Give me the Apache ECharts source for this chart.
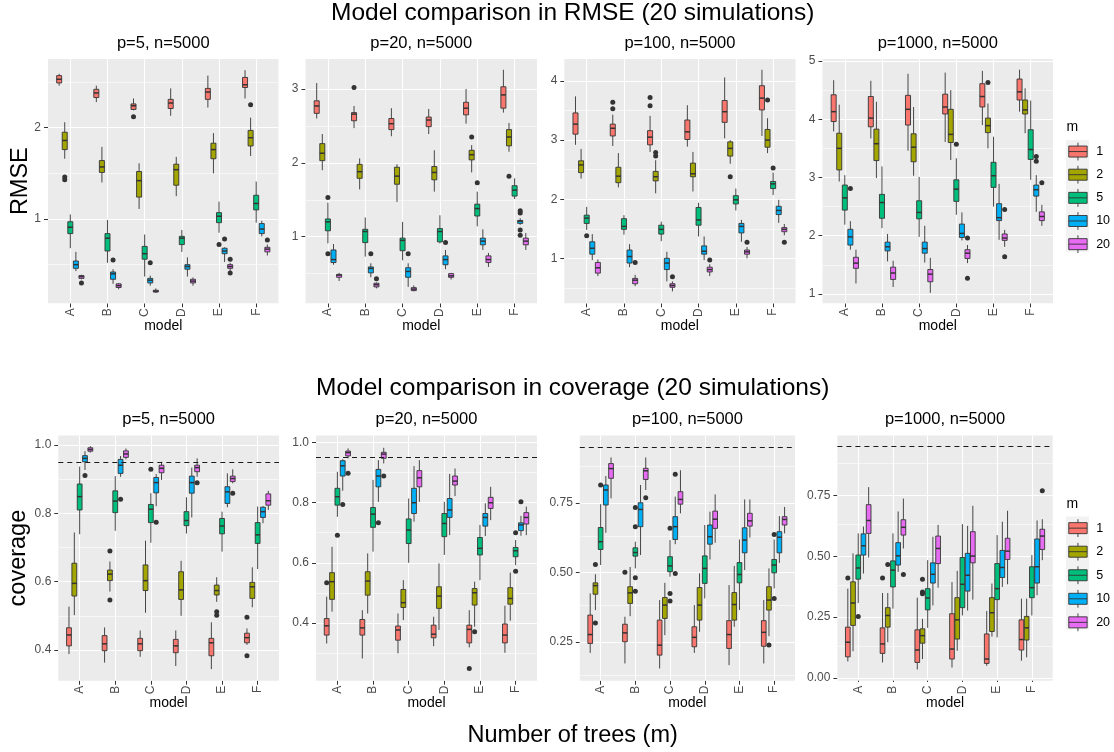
<!DOCTYPE html>
<html><head><meta charset="utf-8">
<script src="https://cdn.jsdelivr.net/npm/echarts@6/dist/echarts.min.js"></script>
<style>html,body{margin:0;padding:0;background:#fff}#c{width:1114px;height:752px}</style>
</head><body><div id="c"></div>
<script>
const models = ['A','B','C','D','E','F'];
const mLevels = ['1','2','5','10','20'];
const mColors = ['#F8766D','#A3A500','#00BF7D','#00B0F6','#E76BF3'];
const coverageTarget = 0.95;

// Box statistics [lower whisker, Q1, median, Q3, upper whisker]; rows = m (1,2,5,10,20), columns = model A..F
const rmseP5 = [
 [[2.46,2.49,2.53,2.57,2.59],[2.28,2.33,2.38,2.42,2.46],[2.19,2.20,2.24,2.26,2.32],[2.13,2.21,2.27,2.31,2.43],[2.22,2.31,2.39,2.43,2.57],[2.32,2.44,2.47,2.55,2.63]],
 [[1.66,1.76,1.86,1.95,2.06],[1.40,1.51,1.57,1.64,1.79],[1.11,1.24,1.42,1.52,1.61],[1.25,1.37,1.54,1.60,1.68],[1.50,1.66,1.76,1.83,1.94],[1.69,1.80,1.89,1.97,2.11]],
 [[0.68,0.84,0.91,0.97,1.05],[0.52,0.65,0.79,0.84,0.99],[0.37,0.56,0.62,0.70,0.83],[0.64,0.72,0.79,0.81,0.88],[0.85,0.96,1.03,1.07,1.19],[0.96,1.10,1.17,1.26,1.41]],
 [[0.43,0.46,0.50,0.54,0.64],[0.29,0.34,0.40,0.42,0.45],[0.27,0.30,0.33,0.35,0.38],[0.37,0.45,0.48,0.50,0.58],[0.53,0.62,0.65,0.68,0.69],[0.81,0.84,0.89,0.95,0.98]],
 [[0.34,0.35,0.37,0.38,0.39],[0.23,0.25,0.27,0.29,0.30],[0.19,0.20,0.21,0.22,0.24],[0.27,0.30,0.32,0.34,0.36],[0.43,0.46,0.48,0.50,0.52],[0.60,0.64,0.67,0.69,0.72]]
];
const rmseP20 = [
 [[2.60,2.67,2.77,2.84,3.08],[2.47,2.57,2.66,2.68,2.77],[2.36,2.45,2.53,2.60,2.74],[2.39,2.49,2.58,2.62,2.73],[2.53,2.65,2.74,2.82,3.00],[2.68,2.74,2.92,3.03,3.26]],
 [[1.90,2.03,2.13,2.26,2.39],[1.64,1.79,1.88,1.98,2.06],[1.47,1.71,1.82,1.94,1.98],[1.61,1.77,1.87,1.95,2.17],[1.87,2.04,2.11,2.17,2.24],[2.15,2.23,2.35,2.45,2.54]],
 [[0.91,1.08,1.20,1.24,1.46],[0.73,0.92,1.07,1.10,1.26],[0.68,0.81,0.95,0.98,1.20],[0.91,0.93,1.07,1.11,1.29],[1.14,1.28,1.38,1.44,1.61],[1.51,1.55,1.63,1.69,1.79]],
 [[0.62,0.65,0.69,0.82,0.90],[0.45,0.51,0.57,0.59,0.64],[0.32,0.45,0.53,0.58,0.64],[0.56,0.62,0.69,0.74,0.82],[0.82,0.89,0.94,0.98,1.10],[1.16,1.18,1.21,1.22,1.25]],
 [[0.40,0.45,0.48,0.49,0.51],[0.30,0.32,0.35,0.37,0.38],[0.26,0.27,0.29,0.31,0.34],[0.42,0.45,0.47,0.50,0.51],[0.59,0.65,0.69,0.74,0.78],[0.82,0.89,0.94,0.98,1.05]]
];
const rmseP100 = [
 [[2.92,3.10,3.27,3.46,3.74],[2.90,3.07,3.20,3.27,3.43],[2.80,2.92,3.05,3.16,3.41],[2.89,3.01,3.14,3.34,3.59],[3.03,3.30,3.48,3.67,4.06],[3.07,3.51,3.71,3.92,4.19]],
 [[2.35,2.45,2.58,2.65,2.85],[2.20,2.28,2.39,2.54,2.78],[2.10,2.31,2.38,2.47,2.66],[2.13,2.38,2.43,2.61,2.80],[2.60,2.73,2.86,2.97,3.00],[2.78,2.88,3.00,3.18,3.37]],
 [[1.48,1.59,1.68,1.73,1.87],[1.40,1.49,1.54,1.67,1.73],[1.29,1.41,1.49,1.56,1.62],[1.37,1.56,1.65,1.86,1.94],[1.81,1.92,1.99,2.06,2.18],[2.07,2.18,2.26,2.30,2.45]],
 [[0.97,1.07,1.17,1.28,1.41],[0.85,0.92,1.03,1.14,1.24],[0.61,0.81,0.92,1.00,1.11],[0.97,1.07,1.12,1.21,1.37],[1.28,1.43,1.54,1.59,1.65],[1.60,1.74,1.81,1.88,1.99]],
 [[0.70,0.75,0.84,0.93,0.98],[0.53,0.57,0.63,0.66,0.72],[0.44,0.51,0.54,0.57,0.61],[0.70,0.77,0.81,0.85,0.90],[1.00,1.07,1.11,1.14,1.19],[1.39,1.45,1.49,1.52,1.58]]
];
const rmseP1000 = [
 [[3.79,3.96,4.13,4.42,4.67],[3.67,3.87,4.02,4.39,4.66],[3.46,3.90,4.17,4.41,4.78],[3.61,4.09,4.21,4.43,4.80],[3.90,4.21,4.39,4.61,4.83],[4.13,4.33,4.47,4.69,4.85]],
 [[2.93,3.13,3.50,3.76,4.25],[2.99,3.29,3.58,3.83,4.30],[3.03,3.27,3.52,3.75,4.21],[3.30,3.60,3.74,4.17,4.50],[3.50,3.77,3.89,4.02,4.27],[3.76,4.09,4.16,4.33,4.53]],
 [[2.19,2.44,2.65,2.87,3.04],[2.13,2.30,2.57,2.71,3.19],[1.98,2.29,2.40,2.60,3.01],[2.36,2.59,2.80,2.96,3.33],[2.50,2.83,3.03,3.26,3.70],[2.96,3.31,3.48,3.82,4.32]],
 [[1.76,1.84,1.98,2.11,2.25],[1.56,1.74,1.81,1.89,2.03],[1.54,1.70,1.78,1.89,2.17],[1.92,1.97,2.04,2.20,2.40],[1.93,2.26,2.31,2.55,2.89],[2.41,2.68,2.79,2.87,3.04]],
 [[1.18,1.44,1.53,1.63,1.76],[1.12,1.25,1.36,1.46,1.57],[1.02,1.21,1.34,1.42,1.62],[1.53,1.61,1.70,1.76,1.84],[1.81,1.92,1.96,2.03,2.10],[2.17,2.26,2.33,2.41,2.53]]
];
const covP5 = [
 [[0.388,0.412,0.444,0.465,0.527],[0.363,0.398,0.418,0.442,0.466],[0.380,0.398,0.418,0.434,0.457],[0.353,0.392,0.412,0.431,0.457],[0.344,0.383,0.421,0.434,0.481],[0.415,0.421,0.436,0.449,0.463]],
 [[0.502,0.558,0.595,0.654,0.744],[0.571,0.603,0.622,0.634,0.659],[0.509,0.574,0.603,0.649,0.720],[0.500,0.548,0.576,0.629,0.661],[0.541,0.561,0.574,0.590,0.613],[0.525,0.551,0.585,0.598,0.642]],
 [[0.739,0.810,0.849,0.886,0.937],[0.749,0.802,0.836,0.866,0.909],[0.714,0.773,0.812,0.826,0.859],[0.741,0.764,0.779,0.805,0.847],[0.688,0.740,0.763,0.785,0.805],[0.637,0.712,0.737,0.773,0.820]],
 [[0.927,0.951,0.961,0.969,0.982],[0.907,0.917,0.941,0.958,0.968],[0.821,0.860,0.890,0.905,0.915],[0.788,0.859,0.890,0.909,0.934],[0.818,0.829,0.863,0.878,0.917],[0.771,0.788,0.805,0.818,0.821]],
 [[0.978,0.982,0.987,0.992,0.997],[0.958,0.964,0.974,0.983,0.990],[0.898,0.919,0.932,0.941,0.951],[0.907,0.922,0.934,0.941,0.961],[0.888,0.893,0.902,0.909,0.929],[0.810,0.824,0.837,0.857,0.866]]
];
const covP20 = [
 [[0.331,0.359,0.390,0.414,0.487],[0.281,0.359,0.383,0.411,0.442],[0.298,0.342,0.376,0.389,0.431],[0.322,0.350,0.362,0.392,0.420],[0.318,0.333,0.378,0.392,0.442],[0.300,0.333,0.359,0.396,0.457]],
 [[0.437,0.478,0.537,0.567,0.653],[0.431,0.492,0.539,0.570,0.631],[0.409,0.451,0.467,0.511,0.542],[0.376,0.448,0.489,0.520,0.598],[0.387,0.459,0.500,0.514,0.537],[0.407,0.462,0.481,0.517,0.567]],
 [[0.753,0.792,0.820,0.848,0.903],[0.637,0.718,0.762,0.784,0.876],[0.600,0.664,0.709,0.746,0.814],[0.626,0.687,0.731,0.764,0.803],[0.542,0.626,0.648,0.684,0.726],[0.592,0.620,0.640,0.651,0.676]],
 [[0.840,0.889,0.923,0.940,0.945],[0.803,0.853,0.889,0.911,0.942],[0.737,0.764,0.800,0.848,0.922],[0.692,0.751,0.776,0.814,0.896],[0.689,0.722,0.751,0.764,0.798],[0.690,0.707,0.726,0.733,0.756]],
 [[0.948,0.956,0.967,0.972,0.981],[0.931,0.948,0.962,0.968,0.983],[0.803,0.853,0.883,0.907,0.942],[0.822,0.859,0.872,0.889,0.914],[0.742,0.781,0.800,0.818,0.853],[0.692,0.729,0.751,0.767,0.787]]
];
const covP100 = [
 [[0.210,0.244,0.276,0.346,0.424],[0.172,0.250,0.282,0.313,0.340],[0.154,0.202,0.238,0.328,0.400],[0.210,0.232,0.266,0.304,0.382],[0.166,0.226,0.276,0.326,0.454],[0.172,0.234,0.284,0.326,0.400]],
 [[0.364,0.421,0.452,0.462,0.493],[0.342,0.388,0.426,0.448,0.519],[0.274,0.334,0.382,0.409,0.462],[0.286,0.328,0.382,0.445,0.496],[0.304,0.328,0.384,0.427,0.523],[0.270,0.364,0.400,0.448,0.514]],
 [[0.526,0.582,0.610,0.661,0.745],[0.514,0.558,0.571,0.588,0.610],[0.484,0.502,0.523,0.556,0.616],[0.406,0.460,0.514,0.559,0.670],[0.364,0.462,0.492,0.535,0.618],[0.442,0.498,0.526,0.546,0.618]],
 [[0.642,0.742,0.796,0.814,0.846],[0.562,0.664,0.726,0.750,0.814],[0.601,0.618,0.664,0.700,0.772],[0.546,0.601,0.628,0.670,0.718],[0.508,0.570,0.616,0.660,0.762],[0.534,0.570,0.626,0.646,0.702]],
 [[0.766,0.838,0.873,0.891,0.913],[0.796,0.834,0.865,0.874,0.913],[0.712,0.745,0.762,0.790,0.867],[0.606,0.658,0.691,0.720,0.780],[0.625,0.666,0.685,0.712,0.762],[0.640,0.670,0.690,0.700,0.735]]
];
const covP1000 = [
 [[0.068,0.087,0.147,0.209,0.367],[0.064,0.101,0.140,0.206,0.349],[0.035,0.064,0.115,0.198,0.330],[0.043,0.078,0.119,0.264,0.394],[0.050,0.060,0.078,0.181,0.275],[0.071,0.115,0.158,0.239,0.326]],
 [[0.110,0.216,0.308,0.395,0.512],[0.147,0.209,0.257,0.289,0.349],[0.078,0.143,0.174,0.202,0.243],[0.112,0.160,0.239,0.330,0.440],[0.170,0.191,0.268,0.330,0.388],[0.085,0.156,0.206,0.253,0.326]],
 [[0.308,0.406,0.452,0.505,0.594],[0.285,0.374,0.443,0.481,0.594],[0.206,0.280,0.329,0.367,0.484],[0.257,0.289,0.385,0.495,0.632],[0.167,0.322,0.367,0.470,0.587],[0.257,0.330,0.371,0.457,0.505]],
 [[0.429,0.505,0.543,0.592,0.622],[0.436,0.464,0.502,0.556,0.684],[0.298,0.390,0.426,0.473,0.580],[0.277,0.357,0.422,0.512,0.625],[0.374,0.413,0.454,0.524,0.642],[0.340,0.390,0.457,0.571,0.647]],
 [[0.495,0.594,0.647,0.712,0.784],[0.532,0.587,0.619,0.650,0.737],[0.371,0.470,0.532,0.583,0.629],[0.322,0.473,0.501,0.601,0.707],[0.385,0.487,0.521,0.574,0.687],[0.484,0.528,0.583,0.611,0.652]]
];

// Outliers [model, m, value]
const rmseP5Out = [['A','2',1.46],['A','2',1.43],['A','20',0.30],['B','10',0.55],['C','1',2.12],['C','10',0.52],['E','5',0.72],['E','10',0.78],['E','20',0.56],['E','20',0.41],['F','2',2.25],['F','20',0.77]];
const rmseP20Out = [['A','5',1.53],['A','5',0.77],['B','1',3.02],['B','10',0.77],['B','20',0.43],['C','10',0.77],['D','10',0.92],['E','2',2.35],['E','5',1.73],['F','2',1.82],['F','10',1.35],['F','10',1.32],['F','10',1.09],['F','10',1.02]];
const rmseP100Out = [['A','5',1.38],['B','1',3.64],['B','1',3.53],['B','20',0.93],['C','1',3.72],['C','1',3.58],['C','2',2.79],['C','2',2.73],['C','20',0.69],['D','20',0.97],['E','2',2.38],['E','20',1.27],['F','2',3.68],['F','5',2.53],['F','20',1.27]];
const rmseP1000Out = [['A','10',2.81],['D','5',3.57],['D','20',1.96],['D','20',1.27],['E','2',4.63],['E','20',2.45],['E','20',1.64],['F','10',3.36],['F','10',3.28],['F','20',2.91]];
const covP5Out = [['A','10',0.911],['B','2',0.690],['B','2',0.546],['B','10',0.841],['C','5',0.929],['C','10',0.774],['D','20',0.890],['E','2',0.512],['E','2',0.502],['E','20',0.859],['F','1',0.496],['F','1',0.383]];
const covP20Out = [['A','1',0.533],['A','5',0.692],['A','10',0.794],['A','20',0.898],['B','10',0.733],['B','20',0.889],['E','1',0.248],['E','2',0.370],['F','5',0.700],['F','5',0.572],['F','10',0.803]];
const covP100Out = [['A','2',0.528],['A','2',0.318],['A','5',0.814],['B','1',0.500],['B','5',0.733],['B','5',0.664],['B','5',0.480],['B','5',0.432],['B','20',0.768],['C','5',0.658],['C','5',0.424],['C','5',0.397],['C','10',0.853],['C','10',0.496],['F','2',0.238],['F','5',0.636],['F','5',0.406]];
const covP1000Out = [['A','1',0.411],['A','5',0.253],['B','1',0.411],['B','2',0.466],['B','20',0.425],['C','2',0.406],['C','2',0.353],['C','2',0.346],['F','20',0.769]];

// Tick labels
const rmseTicksP5 = [1, 2];
const rmseTicksP20 = [1, 2, 3];
const rmseTicksP100 = [1, 2, 3, 4];
const rmseTicksP1000 = [1, 2, 3, 4, 5];
const covTicksP5 = [0.4, 0.6, 0.8, 1.0];
const covTicksP20 = [0.4, 0.6, 0.8, 1.0];
const covTicksP100 = [0.25, 0.50, 0.75];
const covTicksP1000 = [0.00, 0.25, 0.50, 0.75];
const modelPositions = [1, 2, 3, 4, 5, 6];

const FONT = '"Liberation Sans", Arial, sans-serif';
const EDGE = '#333333';
const DODGE = 0.15;      // data units between neighbouring m boxes
const BOX_WIDTH = 0.135; // data units

const panels = [
 {title:'p=5, n=5000', box:rmseP5, out:rmseP5Out, ticks:rmseTicksP5, yMin:0.077, yMax:2.752, dec:0, g:[48,59,230.5,244.3], yName:'RMSE', nameGap:15},
 {title:'p=20, n=5000', box:rmseP20, out:rmseP20Out, ticks:rmseTicksP20, yMin:0.098, yMax:3.406, dec:0, g:[305.5,59,231.5,244.3]},
 {title:'p=100, n=5000', box:rmseP100, out:rmseP100Out, ticks:rmseTicksP100, yMin:0.239, yMax:4.372, dec:0, g:[564.3,59,231.2,244.3]},
 {title:'p=1000, n=5000', box:rmseP1000, out:rmseP1000Out, ticks:rmseTicksP1000, yMin:0.840, yMax:5.034, dec:0, g:[822.5,59,230.5,244.3]},
 {title:'p=5, n=5000', box:covP5, out:covP5Out, ticks:covTicksP5, yMin:0.310, yMax:1.028, dec:1, g:[58.3,435.5,220.7,245.2], yName:'coverage', nameGap:27.8, ref:coverageTarget},
 {title:'p=20, n=5000', box:covP20, out:covP20Out, ticks:covTicksP20, yMin:0.207, yMax:1.024, dec:1, g:[316,435.5,221,245.2], ref:coverageTarget},
 {title:'p=100, n=5000', box:covP100, out:covP100Out, ticks:covTicksP100, yMin:0.110, yMax:0.992, dec:2, g:[579.8,435.5,215.2,245.2], ref:coverageTarget},
 {title:'p=1000, n=5000', box:covP1000, out:covP1000Out, ticks:covTicksP1000, yMin:-0.011, yMax:0.996, dec:2, g:[837.4,435.5,215.3,245.2], ref:coverageTarget}
];

function boxRenderer(dodge) {
  return function (params, api) {
    const x = api.value(0) + dodge;
    const pLo = api.coord([x, api.value(1)]);
    const pQ1 = api.coord([x, api.value(2)]);
    const pMd = api.coord([x, api.value(3)]);
    const pQ3 = api.coord([x, api.value(4)]);
    const pHi = api.coord([x, api.value(5)]);
    const w = api.size([BOX_WIDTH, 0])[0];
    const cx = pMd[0];
    const ls = { stroke: EDGE, lineWidth: 0.9 };
    return { type: 'group', children: [
      { type: 'line', shape: { x1: cx, y1: pHi[1], x2: cx, y2: pQ3[1] }, style: ls },
      { type: 'line', shape: { x1: cx, y1: pQ1[1], x2: cx, y2: pLo[1] }, style: ls },
      { type: 'rect', shape: { x: cx - w / 2, y: pQ3[1], width: w, height: pQ1[1] - pQ3[1] },
        style: { fill: api.visual('color'), stroke: EDGE, lineWidth: 0.9 } },
      { type: 'line', shape: { x1: cx - w / 2, y1: pMd[1], x2: cx + w / 2, y2: pMd[1] },
        style: { stroke: EDGE, lineWidth: 1.5 } }
    ]};
  };
}

const grids = [], xAxes = [], yAxes = [], series = [], graphics = [];

panels.forEach((p, i) => {
  const [gl, gt, gw, gh] = p.g;
  grids.push({ left: gl, top: gt, width: gw, height: gh, show: true, backgroundColor: '#EBEBEB',
    borderWidth: 0, containLabel: false, outerBoundsMode: 'none' });
  xAxes.push({ gridIndex: i, type: 'value', min: 0.4, max: 6.6, splitNumber: 6,
    axisLine: { show: false }, splitLine: { show: false },
    axisTick: { show: true, length: 4, lineStyle: { color: EDGE, width: 1 }, customValues: modelPositions },
    axisLabel: { customValues: modelPositions, rotate: 90, margin: 5, color: '#4D4D4D', fontSize: 12, fontFamily: FONT,
      formatter: v => (Math.abs(v - Math.round(v)) < 1e-6 ? (models[Math.round(v) - 1] || '') : '') },
    name: 'model', nameLocation: 'middle', nameGap: i < 4 ? 16 : 15, nameMoveOverlap: false,
    nameTextStyle: { fontSize: 14, color: '#000', fontFamily: FONT } });
  yAxes.push({ gridIndex: i, type: 'value', min: p.yMin, max: p.yMax,
    axisLine: { show: false }, splitLine: { show: false },
    axisTick: { show: true, length: 4, lineStyle: { color: EDGE, width: 1 }, customValues: p.ticks },
    axisLabel: { customValues: p.ticks, margin: 7, color: '#4D4D4D', fontSize: 12, fontFamily: FONT,
      formatter: v => (p.ticks.some(t => Math.abs(t - v) < 1e-9) ? Number(v).toFixed(p.dec) : '') },
    name: p.yName || '', nameLocation: 'middle', nameGap: p.nameGap || 15, nameMoveOverlap: false,
    nameTextStyle: { fontSize: 23.5, color: '#000', fontFamily: FONT } });

  // panel grid lines
  const step = p.ticks[1] - p.ticks[0];
  const minors = [];
  for (let t = p.ticks[0] - step / 2; t < p.yMax; t += step) { if (t > p.yMin) minors.push(+t.toFixed(5)); }
  const lines = []
    .concat(minors.map(v => ({ yAxis: v, lineStyle: { width: 0.55 } })))
    .concat(p.ticks.filter(v => v > p.yMin && v < p.yMax).map(v => ({ yAxis: v })))
    .concat(modelPositions.map(v => ({ xAxis: v })));
  series.push({ type: 'scatter', xAxisIndex: i, yAxisIndex: i, data: [], silent: true,
    markLine: { z: 1, silent: true, animation: false, symbol: ['none', 'none'], label: { show: false },
      emphasis: { disabled: true }, lineStyle: { color: '#FFFFFF', width: 1.1, type: 'solid' }, data: lines } });

  mLevels.forEach((m, k) => {
    series.push({ type: 'custom', name: m, xAxisIndex: i, yAxisIndex: i, z: 2, silent: true,
      itemStyle: { color: mColors[k] }, renderItem: boxRenderer((k - 2) * DODGE),
      encode: { x: 0, y: [1, 2, 3, 4, 5] },
      data: p.box[k].map((s, j) => [modelPositions[j]].concat(s)) });
  });
  mLevels.forEach((m, k) => {
    series.push({ type: 'scatter', name: m, xAxisIndex: i, yAxisIndex: i, z: 3, silent: true,
      symbolSize: 5, itemStyle: { color: EDGE, opacity: 1 },
      data: p.out.filter(o => o[1] === m).map(o => [modelPositions[models.indexOf(o[0])] + (k - 2) * DODGE, o[2]]) });
  });
  if (p.ref != null) {
    series.push({ type: 'scatter', xAxisIndex: i, yAxisIndex: i, data: [], silent: true,
      markLine: { z: 5, silent: true, animation: false, symbol: ['none', 'none'], label: { show: false },
        emphasis: { disabled: true }, lineStyle: { color: '#1a1a1a', width: 1, type: [5, 4] },
        data: [{ yAxis: p.ref }] } });
  }
  graphics.push({ type: 'text', x: gl + gw / 2, y: i < 4 ? 43.3 : 419.3, silent: true,
    style: { text: p.title, fill: '#000', font: '16.5px ' + FONT, fontSize: 16.5, fontFamily: FONT,
      align: 'center', verticalAlign: 'middle', textAlign: 'center', textVerticalAlign: 'middle' } });
});

function bigText(txt, x, y, size) {
  return { type: 'text', x: x, y: y, silent: true,
    style: { text: txt, fill: '#000', font: size + 'px ' + FONT, fontSize: size, fontFamily: FONT,
      align: 'center', verticalAlign: 'middle', textAlign: 'center', textVerticalAlign: 'middle' } };
}
graphics.push(bigText('Model comparison in RMSE (20 simulations)', 572.7, 12.8, 24.5));
graphics.push(bigText('Model comparison in coverage (20 simulations)', 572.7, 388, 24.5));
graphics.push(bigText('Number of trees (m)', 572.7, 736, 23.5));

// legend key backgrounds and titles
[[140, 111.7, 127.3], [516.4, 113.2, 504.3]].forEach(([y, h, ty]) => {
  graphics.push({ type: 'rect', shape: { x: 1066, y: y, width: 23, height: h }, style: { fill: '#F2F2F2' }, silent: true, z: -10 });
  graphics.push({ type: 'text', x: 1066.5, y: ty, silent: true,
    style: { text: 'm', fill: '#000', font: '14px ' + FONT, fontSize: 14, fontFamily: FONT,
      align: 'left', verticalAlign: 'middle', textAlign: 'left', textVerticalAlign: 'middle' } });
});

const keyIcon = 'path://M9.2,0L9.2,3.4M0,3.4L18.4,3.4L18.4,14.4L0,14.4ZM0,8.9L18.4,8.9M9.2,14.4L9.2,17.8';
const legends = [[142.2, 4.45], [518.8, 4.85]].map(([top, gap]) => ({
  orient: 'vertical', left: 1068.3, top: top, padding: 0, itemWidth: 18.4, itemHeight: 17.8, itemGap: gap,
  icon: keyIcon, selectedMode: false,
  textStyle: { fontSize: 12.5, color: '#000', fontFamily: FONT, padding: [0, 0, 0, 4] },
  data: mLevels.map((m, k) => ({ name: m, itemStyle: { color: mColors[k], borderColor: EDGE, borderWidth: 0.9 } }))
}));

const chart = echarts.init(document.getElementById('c'), null, { renderer: 'canvas' });
chart.setOption({
  animation: false,
  backgroundColor: '#FFFFFF',
  textStyle: { fontFamily: FONT },
  grid: grids, xAxis: xAxes, yAxis: yAxes, series: series,
  legend: legends, graphic: graphics, tooltip: { show: false }
});
</script></body></html>
